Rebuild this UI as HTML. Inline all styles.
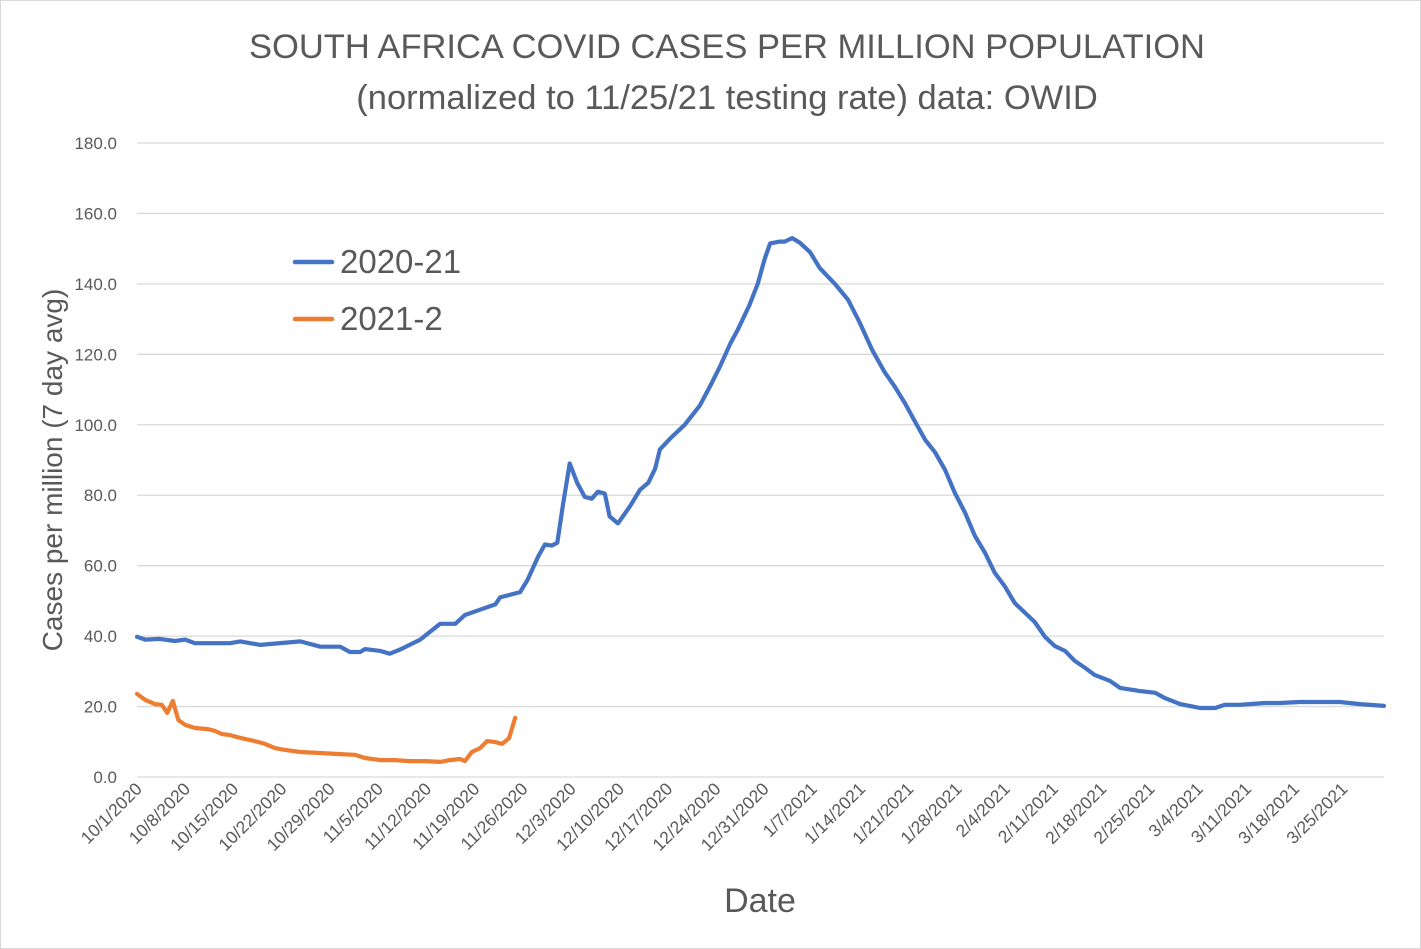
<!DOCTYPE html>
<html><head><meta charset="utf-8"><style>
html,body{margin:0;padding:0;background:#fff}
svg{display:block;font-family:"Liberation Sans",sans-serif}
</style></head><body>
<svg id="chart" width="1421" height="949" viewBox="0 0 1421 949">
<rect x="0.5" y="0.5" width="1420" height="948" fill="#fff" stroke="#d9d9d9"/>
<text x="727" y="58" text-anchor="middle" font-size="34.5" fill="#595959">SOUTH AFRICA COVID CASES PER MILLION POPULATION</text>
<text x="727" y="109" text-anchor="middle" font-size="34.5" fill="#595959">(normalized to 11/25/21 testing rate) data: OWID</text>
<g id="grid"></g><g id="yticks"></g><g id="xticks"></g><g id="series"></g>
<text transform="translate(62,470) rotate(-90)" text-anchor="middle" font-size="28" fill="#595959">Cases per million (7 day avg)</text>
<text x="760" y="912" text-anchor="middle" font-size="34" fill="#595959">Date</text>
<g>
<line x1="295" y1="262" x2="332" y2="262" stroke="#4472C4" stroke-width="4.5" stroke-linecap="round"/>
<text x="340" y="273" font-size="33" fill="#595959">2020-21</text>
<line x1="295" y1="319" x2="332" y2="319" stroke="#ED7D31" stroke-width="4.5" stroke-linecap="round"/>
<text x="340" y="330" font-size="33" fill="#595959">2021-2</text>
</g>
</svg>
<script>
const yTicks=[0,20,40,60,80,100,120,140,160,180];
const xTickLabels=["10/1/2020","10/8/2020","10/15/2020","10/22/2020","10/29/2020","11/5/2020","11/12/2020","11/19/2020","11/26/2020","12/3/2020","12/10/2020","12/17/2020","12/24/2020","12/31/2020","1/7/2021","1/14/2021","1/21/2021","1/28/2021","2/4/2021","2/11/2021","2/18/2021","2/25/2021","3/4/2021","3/11/2021","3/18/2021","3/25/2021"];
const blueDays=[0,1.2,3.3,5.5,7,8.4,13.5,15,17.9,23.7,26.6,29.5,30.9,32.4,33.1,35.3,36.7,38.2,41.1,44,46.2,47.6,49.8,52,52.7,55.6,56.7,58.2,59.2,60.2,61,61.8,62.8,63.9,65,66,66.9,67.9,68.6,69.8,71.6,73,74.2,75.2,75.9,77.6,79.5,81.7,83.2,84.6,86.1,87.2,88.9,90.1,91.1,91.9,93.3,94,95.1,96.2,97.7,99.1,101.3,103.2,104.9,106.7,108.5,110,111.5,112.9,114.4,115.8,117.3,118.7,120.2,121.6,123.1,124.5,126,127.4,128.9,130.3,131.8,133.2,134.7,136.1,137.6,139,141.2,142.7,145.6,147.8,149.2,151.4,152.8,154.3,156.5,157.9,160.1,161.5,163.7,165.9,168.8,171.7,174.6,177.5,181];
const blueValues=[39.8,39,39.2,38.6,39,38,38,38.5,37.5,38.5,37,37,35.5,35.5,36.3,35.8,35,36.2,39,43.5,43.5,46,47.5,49,51,52.5,56,62.5,66,65.7,66.5,77,89,83.5,79.5,79,81,80.5,74,72,77,81.5,83.5,87.5,93,96.5,100,105.5,111,116.5,123,127,134,140,147,151.5,152,152,153,151.7,149,144.5,140,135.5,129,121.3,115,110.8,106,101,95.7,92.3,87.2,80.7,75,68.5,63.6,58,54,49.4,46.6,44,39.8,37.2,35.8,33,31,29,27.3,25.3,24.4,23.9,22.4,20.7,20.2,19.6,19.6,20.5,20.5,20.7,21,21,21.3,21.3,21.3,20.7,20.2];
const orangeDays=[0,1.2,2.6,3.6,4.4,5.2,6,7,8.4,10.3,11.3,12.3,13.5,15,17.1,18.6,20,21.5,23.7,26.6,29.5,31.6,33.1,35.3,37.4,39.6,41.8,44,45.4,46.9,47.6,48.6,49.8,50.8,52,53,54,54.9];
const orangeValues=[23.6,21.9,20.7,20.5,18.2,21.6,16.2,14.8,13.9,13.6,13.1,12.2,11.9,11.1,10.2,9.4,8.2,7.7,7.1,6.8,6.5,6.3,5.4,4.8,4.8,4.5,4.5,4.3,4.8,5.1,4.5,7.1,8.2,10.2,9.9,9.4,11,16.8];

const NS="http://www.w3.org/2000/svg";
const X0=137,X1=1384,Y0=777,Y1=143,DMAX=181,VMAX=180;
const xS=d=>X0+(X1-X0)*d/DMAX;
const yS=v=>Y0-(Y0-Y1)*v/VMAX;
function mk(tag,attrs,parent){const e=document.createElementNS(NS,tag);for(const k in attrs)e.setAttribute(k,attrs[k]);parent.appendChild(e);return e;}
const grid=document.getElementById('grid'),yt=document.getElementById('yticks'),xt=document.getElementById('xticks'),se=document.getElementById('series');
yTicks.forEach(v=>{
 const l=mk('line',{x1:X0,x2:X1,y1:yS(v),y2:yS(v),stroke:'#d9d9d9','stroke-width':1.3},grid);
 
 
 const t=mk('text',{x:117,y:yS(v)+6,'text-anchor':'end','font-size':17,fill:'#595959'},yt);
 t.textContent=v.toFixed(1);
 
 
});
xTickLabels.forEach((lab,i)=>{
 const x=xS(i*7)+6,y=790;
 const t=mk('text',{x:x,y:y,'text-anchor':'end','font-size':17.5,fill:'#595959',transform:`rotate(-45 ${x} ${y})`},xt);
 t.textContent=lab;
 
 
});
function line(days,vals,color,name){
 const d=days.map((dd,i)=>(i?'L':'M')+xS(dd).toFixed(1)+','+yS(vals[i]).toFixed(1)).join(' ');
 const p=mk('path',{d:d,fill:'none',stroke:color,'stroke-width':4.2,'stroke-linejoin':'round','stroke-linecap':'round'},se);
 
 
}
line(blueDays,blueValues,'#4472C4','series-2020-21-line');
line(orangeDays,orangeValues,'#ED7D31','series-2021-2-line');
</script>
</body></html>
